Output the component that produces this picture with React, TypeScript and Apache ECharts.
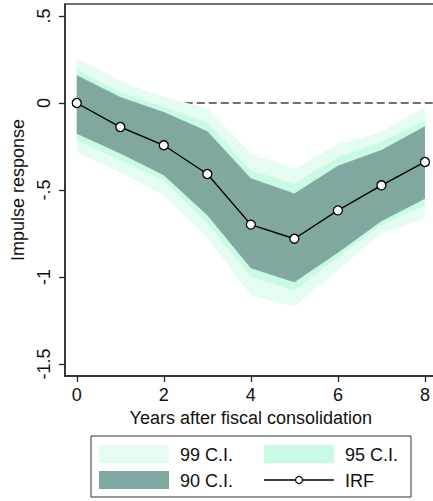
import React, { useEffect, useRef } from "react";
import * as echarts from "echarts";

const years = [0, 1, 2, 3, 4, 5, 6, 7, 8];
const irf = [0, -0.138, -0.243, -0.408, -0.699, -0.78, -0.617, -0.473, -0.339];
const upper99 = [0.26, 0.125, 0.035, -0.03, -0.29, -0.38, -0.235, -0.167, -0.02];
const upper95 = [0.19, 0.063, -0.023, -0.11, -0.387, -0.465, -0.31, -0.224, -0.1];
const upper90 = [0.16, 0.034, -0.052, -0.163, -0.433, -0.52, -0.36, -0.27, -0.134];
const lower90 = [-0.176, -0.29, -0.415, -0.645, -0.95, -1.03, -0.86, -0.68, -0.55];
const lower95 = [-0.214, -0.33, -0.444, -0.69, -1.0, -1.077, -0.885, -0.7, -0.588];
const lower99 = [-0.281, -0.4, -0.53, -0.77, -1.105, -1.17, -0.96, -0.75, -0.665];

const xTicks = [0, 2, 4, 6, 8];
const yTicks = [-1.5, -1, -0.5, 0, 0.5];
const yTickLabels = ["-1.5", "-1", "-.5", "0", ".5"];
const legendLabels = ["99 C.I.", "95 C.I.", "90 C.I.", "IRF"];

const X_MIN = -0.27;
const X_MAX = 8.27;
const Y_MIN = -1.569;
const Y_MAX = 0.569;

const C99 = "#e4fdf0";
const C95 = "#c9fae3";
const C90 = "#80a7a0";
const FONT = "'Liberation Sans', Arial, Helvetica, sans-serif";

function bandSeries(name: string, lower: number[], upper: number[], color: string) {
  return {
    type: "custom",
    name,
    data: [0],
    silent: true,
    z: 2,
    renderItem: (_params: any, api: any) => {
      const pts: number[][] = [];
      years.forEach((x, i) => pts.push(api.coord([x, upper[i]])));
      for (let i = years.length - 1; i >= 0; i--) pts.push(api.coord([years[i], lower[i]]));
      return {
        type: "polygon",
        shape: { points: pts },
        style: { fill: color, stroke: "none" },
      };
    },
  };
}

export default function App() {
  const ref = useRef<HTMLDivElement>(null);
  useEffect(() => {
    if (!ref.current) return;
    const chart = echarts.init(ref.current, undefined, { renderer: "svg" });
    const lx = 91, ly = 436, lw = 320, lh = 61;
    chart.setOption({
      animation: false,
      textStyle: { fontFamily: FONT },
      grid: {
        left: 65,
        top: 4,
        width: 371.7,
        height: 372,
        show: true,
        borderColor: "#444",
        borderWidth: 1.3,
        backgroundColor: "transparent",
      },
      xAxis: {
        type: "value",
        min: X_MIN,
        max: X_MAX,
        name: "Years after fiscal consolidation",
        nameLocation: "middle",
        nameGap: 29,
        nameTextStyle: { fontSize: 18, color: "#111", fontFamily: FONT },
        axisLine: { show: true, onZero: false, lineStyle: { color: "#222", width: 1.5 } },
        axisTick: { show: true, customValues: xTicks, length: 6, lineStyle: { color: "#222", width: 1.3 } },
        axisLabel: { customValues: xTicks, fontSize: 18, color: "#111", margin: 10, fontFamily: FONT },
        splitLine: { show: false },
      },
      yAxis: {
        type: "value",
        min: Y_MIN,
        max: Y_MAX,
        name: "Impulse response",
        nameLocation: "middle",
        nameRotate: 90,
        nameGap: 30,
        nameTextStyle: { fontSize: 18, color: "#111", fontFamily: FONT },
        axisLine: { show: true, onZero: false, lineStyle: { color: "#222", width: 1.5 } },
        axisTick: { show: true, customValues: yTicks, length: 6, lineStyle: { color: "#222", width: 1.3 } },
        axisLabel: {
          customValues: yTicks,
          rotate: 90,
          fontSize: 18,
          color: "#111",
          margin: 12,
          fontFamily: FONT,
          formatter: (v: number) => {
            const i = yTicks.findIndex((t) => Math.abs(t - v) < 1e-6);
            return i >= 0 ? yTickLabels[i] : "";
          },
        },
        splitLine: { show: false },
      },
      series: [
        {
          type: "line",
          name: "zero",
          data: [[0, 0], [X_MAX, 0]],
          symbol: "none",
          lineStyle: { color: "#444", width: 1.4, type: [8, 4] },
          silent: true,
          z: 1,
        },
        bandSeries("b99", lower99, upper99, C99),
        bandSeries("b95", lower95, upper95, C95),
        bandSeries("b90", lower90, upper90, C90),
        {
          type: "line",
          name: "IRF",
          data: years.map((x, i) => [x, irf[i]]),
          symbol: "circle",
          symbolSize: 9,
          showSymbol: true,
          lineStyle: { color: "#000", width: 1.4 },
          itemStyle: { color: "#fff", borderColor: "#000", borderWidth: 1.3 },
          z: 5,
        },
      ],
      graphic: [
        {
          type: "rect",
          shape: { x: lx, y: ly, width: lw, height: lh },
          style: { fill: "#fff", stroke: "#333", lineWidth: 1 },
          z: 10,
        },
        { type: "rect", shape: { x: 99, y: 445, width: 70, height: 18 }, style: { fill: C99 }, z: 11 },
        { type: "text", x: 180, y: 454.5, style: { text: legendLabels[0], font: `18px ${FONT}`, fill: "#111", verticalAlign: "middle" }, z: 11 },
        { type: "rect", shape: { x: 264, y: 445, width: 70, height: 18 }, style: { fill: C95 }, z: 11 },
        { type: "text", x: 345, y: 454.5, style: { text: legendLabels[1], font: `18px ${FONT}`, fill: "#111", verticalAlign: "middle" }, z: 11 },
        { type: "rect", shape: { x: 99, y: 471, width: 70, height: 18 }, style: { fill: C90 }, z: 11 },
        { type: "text", x: 180, y: 480.5, style: { text: legendLabels[2], font: `18px ${FONT}`, fill: "#111", verticalAlign: "middle" }, z: 11 },
        { type: "line", shape: { x1: 264, y1: 480, x2: 334, y2: 480 }, style: { stroke: "#000", lineWidth: 1.4 }, z: 11 },
        { type: "circle", shape: { cx: 299, cy: 480, r: 3.5 }, style: { fill: "#fff", stroke: "#000", lineWidth: 1.2 }, z: 12 },
        { type: "text", x: 345, y: 480.5, style: { text: legendLabels[3], font: `18px ${FONT}`, fill: "#111", verticalAlign: "middle" }, z: 11 },
      ],
    });
    return () => chart.dispose();
  }, []);
  return (
    <div style={{ position: "absolute", left: 0, top: 0, width: 433, height: 501, overflow: "hidden", background: "#fff" }}>
      <div ref={ref} style={{ width: 440, height: 501 }} />
    </div>
  );
}
